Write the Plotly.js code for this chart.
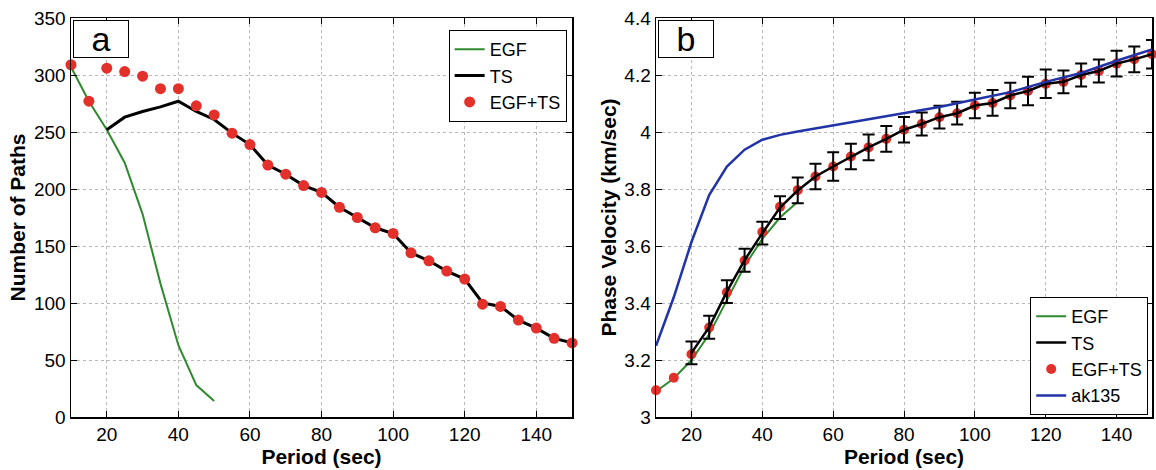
<!DOCTYPE html>
<html>
<head>
<meta charset="utf-8">
<script src="https://cdn.plot.ly/plotly-3.0.1.min.js"></script>
<style>html,body{margin:0;padding:0;background:#fff;}#chart{width:1156px;height:470px;}</style>
</head>
<body>
<div id="chart"></div>
<script>
// ---------- Panel a: number of paths ----------
const periodsAll = [10,15,20,25,30,35,40,45,50,55,60,65,70,75,80,85,90,95,100,105,110,115,120,125,130,135,140,145,150];
const periodsEGF = [10,15,20,25,30,35,40,45,50];
const periodsTS = [20,25,30,35,40,45,50,55,60,65,70,75,80,85,90,95,100,105,110,115,120,125,130,135,140,145,150];

const pathsEGF = [307,277,252,223,178,117,63,28,14];
const pathsTS = [252,263,268,272,277,268,261,249,239,221,213,203,197,184,175,166,161,144,137,128,121,100,97,85,78,69,65];
const pathsBoth = [309,277,306,303,299,288,288,273,265,249,239,221,213,203,197,184,175,166,161,144,137,128,121,99,97,85,78,69,65];

// ---------- Panel b: phase velocity ----------
const velEGF = [3.09,3.135,3.20,3.29,3.41,3.53,3.625,3.70,3.755];
const velTS = [3.225,3.315,3.44,3.55,3.645,3.735,3.795,3.844,3.879,3.914,3.946,3.976,4.008,4.028,4.052,4.066,4.093,4.102,4.128,4.144,4.169,4.176,4.200,4.214,4.240,4.255,4.273];
const velTSerr = [0.04,0.04,0.04,0.04,0.04,0.04,0.045,0.045,0.05,0.045,0.045,0.045,0.045,0.04,0.04,0.04,0.045,0.045,0.045,0.05,0.05,0.04,0.04,0.04,0.045,0.045,0.05];
const velBoth = [3.094,3.138,3.22,3.314,3.438,3.549,3.649,3.738,3.796,3.844,3.879,3.914,3.946,3.976,4.008,4.028,4.052,4.066,4.093,4.102,4.128,4.144,4.169,4.176,4.200,4.214,4.240,4.255,4.273];
const periodsAK = [10,15,20,25,30,35,40,45,50,60,70,80,90,100,110,120,130,140,150];
const velAK = [3.25,3.42,3.614,3.779,3.879,3.938,3.973,3.99,4.002,4.024,4.045,4.067,4.088,4.114,4.14,4.176,4.207,4.25,4.29];

const xTicks = [20,40,60,80,100,120,140];

const green = '#2f8a2f', red = '#e3302b', blue = '#2233a8';
const FONT = 'Liberation Sans, Arial, Helvetica, sans-serif';

const traces = [
  {x: periodsEGF, y: pathsEGF, type:'scatter', mode:'lines', name:'EGF', line:{color:green, width:2}, xaxis:'x', yaxis:'y', legend:'legend', legendrank:1},
  {x: periodsTS, y: pathsTS, type:'scatter', mode:'lines', name:'TS', line:{color:'#000', width:3}, xaxis:'x', yaxis:'y', legend:'legend', legendrank:2},
  {x: periodsAll, y: pathsBoth, type:'scatter', mode:'markers', name:'EGF+TS', marker:{color:red, size:11}, cliponaxis:false, xaxis:'x', yaxis:'y', legend:'legend', legendrank:3},

  {x: periodsEGF, y: velEGF, type:'scatter', mode:'lines', name:'EGF', line:{color:green, width:2}, xaxis:'x2', yaxis:'y2', legend:'legend2', legendrank:1},
  {x: periodsAll, y: velBoth, type:'scatter', mode:'markers', name:'EGF+TS', marker:{color:red, size:10}, cliponaxis:false, xaxis:'x2', yaxis:'y2', legend:'legend2', legendrank:3},
  {x: periodsTS, y: velTS, type:'scatter', mode:'lines', name:'TS', line:{color:'#000', width:2.5},
   error_y:{type:'data', array:velTSerr, visible:true, color:'#000', thickness:2, width:6},
   cliponaxis:false, xaxis:'x2', yaxis:'y2', legend:'legend2', legendrank:2},
  {x: periodsAK, y: velAK, type:'scatter', mode:'lines', name:'ak135', line:{color:blue, width:2.5}, xaxis:'x2', yaxis:'y2', legend:'legend2', legendrank:4}
];

const axisCommon = {
  showline:true, mirror:'ticks', linecolor:'#000', linewidth:1.5,
  ticks:'inside', ticklen:6, tickcolor:'#000', tickwidth:1,
  showgrid:true, gridcolor:'#b8b8b8', griddash:'dot', gridwidth:1,
  zeroline:false, automargin:false,
  tickfont:{family:FONT, size:19, color:'#000'}
};
const titleFont = {family:FONT, size:21, color:'#000', weight:'bold'};

const layout = {
  width:1156, height:470,
  margin:{l:71, r:4, t:18, b:53},
  paper_bgcolor:'#fff', plot_bgcolor:'#fff',
  font:{family:FONT, color:'#000'},
  xaxis: Object.assign({}, axisCommon, {domain:[0,0.4635], range:[10,150], tickvals:xTicks,
    title:{text:'Period (sec)', font:titleFont, standoff:0}}),
  yaxis: Object.assign({}, axisCommon, {domain:[0,1], range:[0,350], dtick:50, tick0:0,
    title:{text:'Number of Paths', font:titleFont, standoff:2}}),
  xaxis2: Object.assign({}, axisCommon, {domain:[0.5412,1], range:[10,150], tickvals:xTicks, anchor:'y2',
    title:{text:'Period (sec)', font:titleFont, standoff:0}}),
  yaxis2: Object.assign({}, axisCommon, {domain:[0,1], range:[3,4.4], dtick:0.2, tick0:3, anchor:'x2',
    title:{text:'Phase Velocity (km/sec)', font:titleFont, standoff:2}}),
  legend:{x:0.4585, xanchor:'right', y:0.97, yanchor:'top', bgcolor:'#fff', bordercolor:'#000', borderwidth:1,
    font:{family:FONT, size:18, color:'#000'}, itemwidth:30, tracegroupgap:0},
  legend2:{x:0.9965, xanchor:'right', y:0.005, yanchor:'bottom', bgcolor:'#fff', bordercolor:'#000', borderwidth:1,
    font:{family:FONT, size:18, color:'#000'}, itemwidth:30, tracegroupgap:0},
  annotations:[
    {text:'a', xref:'paper', yref:'paper', x:0.002, xanchor:'left', y:0.995, yanchor:'top', showarrow:false,
     width:52, height:34, bgcolor:'#fff', bordercolor:'#000', borderwidth:1, font:{family:FONT, size:34, color:'#000'}},
    {text:'b', xref:'paper', yref:'paper', x:0.5432, xanchor:'left', y:0.995, yanchor:'top', showarrow:false,
     width:52, height:34, bgcolor:'#fff', bordercolor:'#000', borderwidth:1, font:{family:FONT, size:34, color:'#000'}}
  ],
  showlegend:true
};

Plotly.newPlot('chart', traces, layout, {displayModeBar:false, staticPlot:true});
</script>
</body>
</html>
